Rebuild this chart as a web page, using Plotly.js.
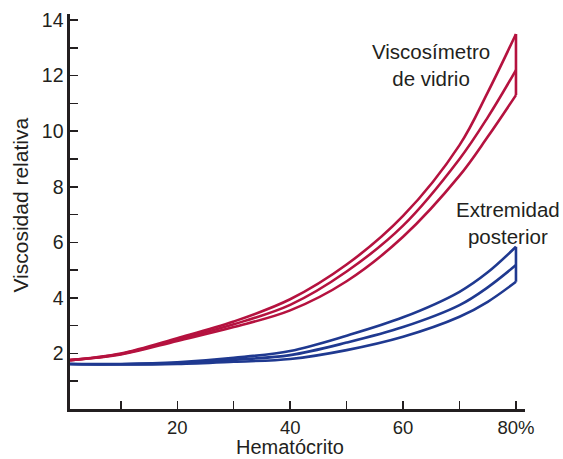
<!DOCTYPE html>
<html>
<head>
<meta charset="utf-8">
<script src="https://cdn.plot.ly/plotly-3.0.1.min.js"></script>
<style>html,body{margin:0;padding:0;background:#fff;}#chart{width:563px;height:459px;}</style>
</head>
<body>
<div id="chart"></div>
<script>
// Hematocrit (%)
var hct = [1, 10, 20, 30, 40, 50, 60, 70, 75, 80];
// Glass viscometer (three curves)
var glassTop = [1.76, 2.0, 2.55, 3.15, 3.95, 5.2, 6.95, 9.5, 11.4, 13.5];
var glassMid = [1.76, 1.98, 2.5, 3.05, 3.75, 4.95, 6.6, 9.0, 10.5, 12.2];
var glassLow = [1.76, 1.96, 2.45, 2.95, 3.55, 4.6, 6.2, 8.4, 9.8, 11.3];
// Hind limb (three curves)
var legTop = [1.62, 1.62, 1.68, 1.84, 2.09, 2.64, 3.3, 4.22, 4.92, 5.84];
var legMid = [1.62, 1.61, 1.65, 1.77, 1.94, 2.39, 2.95, 3.74, 4.38, 5.18];
var legLow = [1.62, 1.60, 1.62, 1.70, 1.80, 2.12, 2.6, 3.32, 3.86, 4.58];

var xTickVals = [10, 20, 30, 40, 50, 60, 70, 80];
var xTickText = ['', '20', '', '40', '', '60', '', '80%'];
var yTickVals = [1, 2, 3, 4, 5, 6, 7, 8, 9, 10, 11, 12, 13, 14];
var yTickText = ['', '2', '', '4', '', '6', '', '8', '', '10', '', '12', '', '14'];

var xTitle = 'Hematócrito';
var yTitle = 'Viscosidad relativa';
var labelGlass = 'Viscosímetro<br>de vidrio';
var labelLeg = 'Extremidad<br>posterior';

var RED = '#b5123f';
var BLUE = '#1f3990';
var FONT = 'Liberation Sans, Arial, Helvetica, sans-serif';
var TXT = '#231f20';

function curve(y, color) {
  return {x: hct, y: y, mode: 'lines', type: 'scatter',
    line: {color: color, width: 2.6, shape: 'spline', smoothing: 1},
    hoverinfo: 'skip', showlegend: false};
}
var last = hct.length - 1;
function closer(top, low, color) {
  return {x: [hct[last], hct[last]], y: [top[last], low[last]], mode: 'lines', type: 'scatter',
    line: {color: color, width: 2.6}, hoverinfo: 'skip', showlegend: false};
}

var data = [
  curve(legTop, BLUE), curve(legMid, BLUE), curve(legLow, BLUE), closer(legTop, legLow, BLUE),
  curve(glassTop, RED), curve(glassMid, RED), curve(glassLow, RED), closer(glassTop, glassLow, RED)
];

var layout = {
  width: 563, height: 459,
  margin: {l: 70, r: 38, t: 14, b: 50, pad: 0},
  paper_bgcolor: '#fff', plot_bgcolor: '#fff',
  font: {family: FONT, color: TXT, size: 19.5},
  showlegend: false,
  xaxis: {
    range: [1, 81.6], showgrid: false, zeroline: false,
    showline: true, linecolor: '#231f20', linewidth: 2.6,
    ticks: 'inside', ticklen: 8, tickwidth: 1.5, tickcolor: '#231f20',
    tickmode: 'array', tickvals: xTickVals, ticktext: xTickText,
    tickfont: {family: FONT, size: 18.5, color: TXT},
    automargin: false
  },
  yaxis: {
    range: [0, 14.22], showgrid: false, zeroline: false,
    showline: true, linecolor: '#231f20', linewidth: 2.6,
    ticks: 'inside', ticklen: 8, tickwidth: 1.5, tickcolor: '#231f20',
    tickmode: 'array', tickvals: yTickVals, ticktext: yTickText,
    tickfont: {family: FONT, size: 19.5, color: TXT},
    automargin: false
  },
  annotations: [
    {x: 0.4835, y: -0.1266, xref: 'paper', yref: 'paper', text: xTitle, showarrow: false, borderpad: 0,
     font: {family: FONT, size: 20, color: TXT}, xanchor: 'center', yanchor: 'bottom'},
    {x: -0.109, y: 0.516, xref: 'paper', yref: 'paper', text: yTitle, showarrow: false, textangle: -90,
     font: {family: FONT, size: 21, color: TXT}, xanchor: 'center', yanchor: 'middle'},
    {x: 64.9, y: 12.38, xref: 'x', yref: 'y', text: labelGlass, showarrow: false,
     font: {family: FONT, size: 20.5, color: TXT}, align: 'center', xanchor: 'center', yanchor: 'middle'},
    {x: 78.5, y: 6.7, xref: 'x', yref: 'y', text: labelLeg, showarrow: false,
     font: {family: FONT, size: 20.5, color: TXT}, align: 'center', xanchor: 'center', yanchor: 'middle'}
  ]
};

Plotly.newPlot('chart', data, layout, {displayModeBar: false, staticPlot: true});
</script>
</body>
</html>
